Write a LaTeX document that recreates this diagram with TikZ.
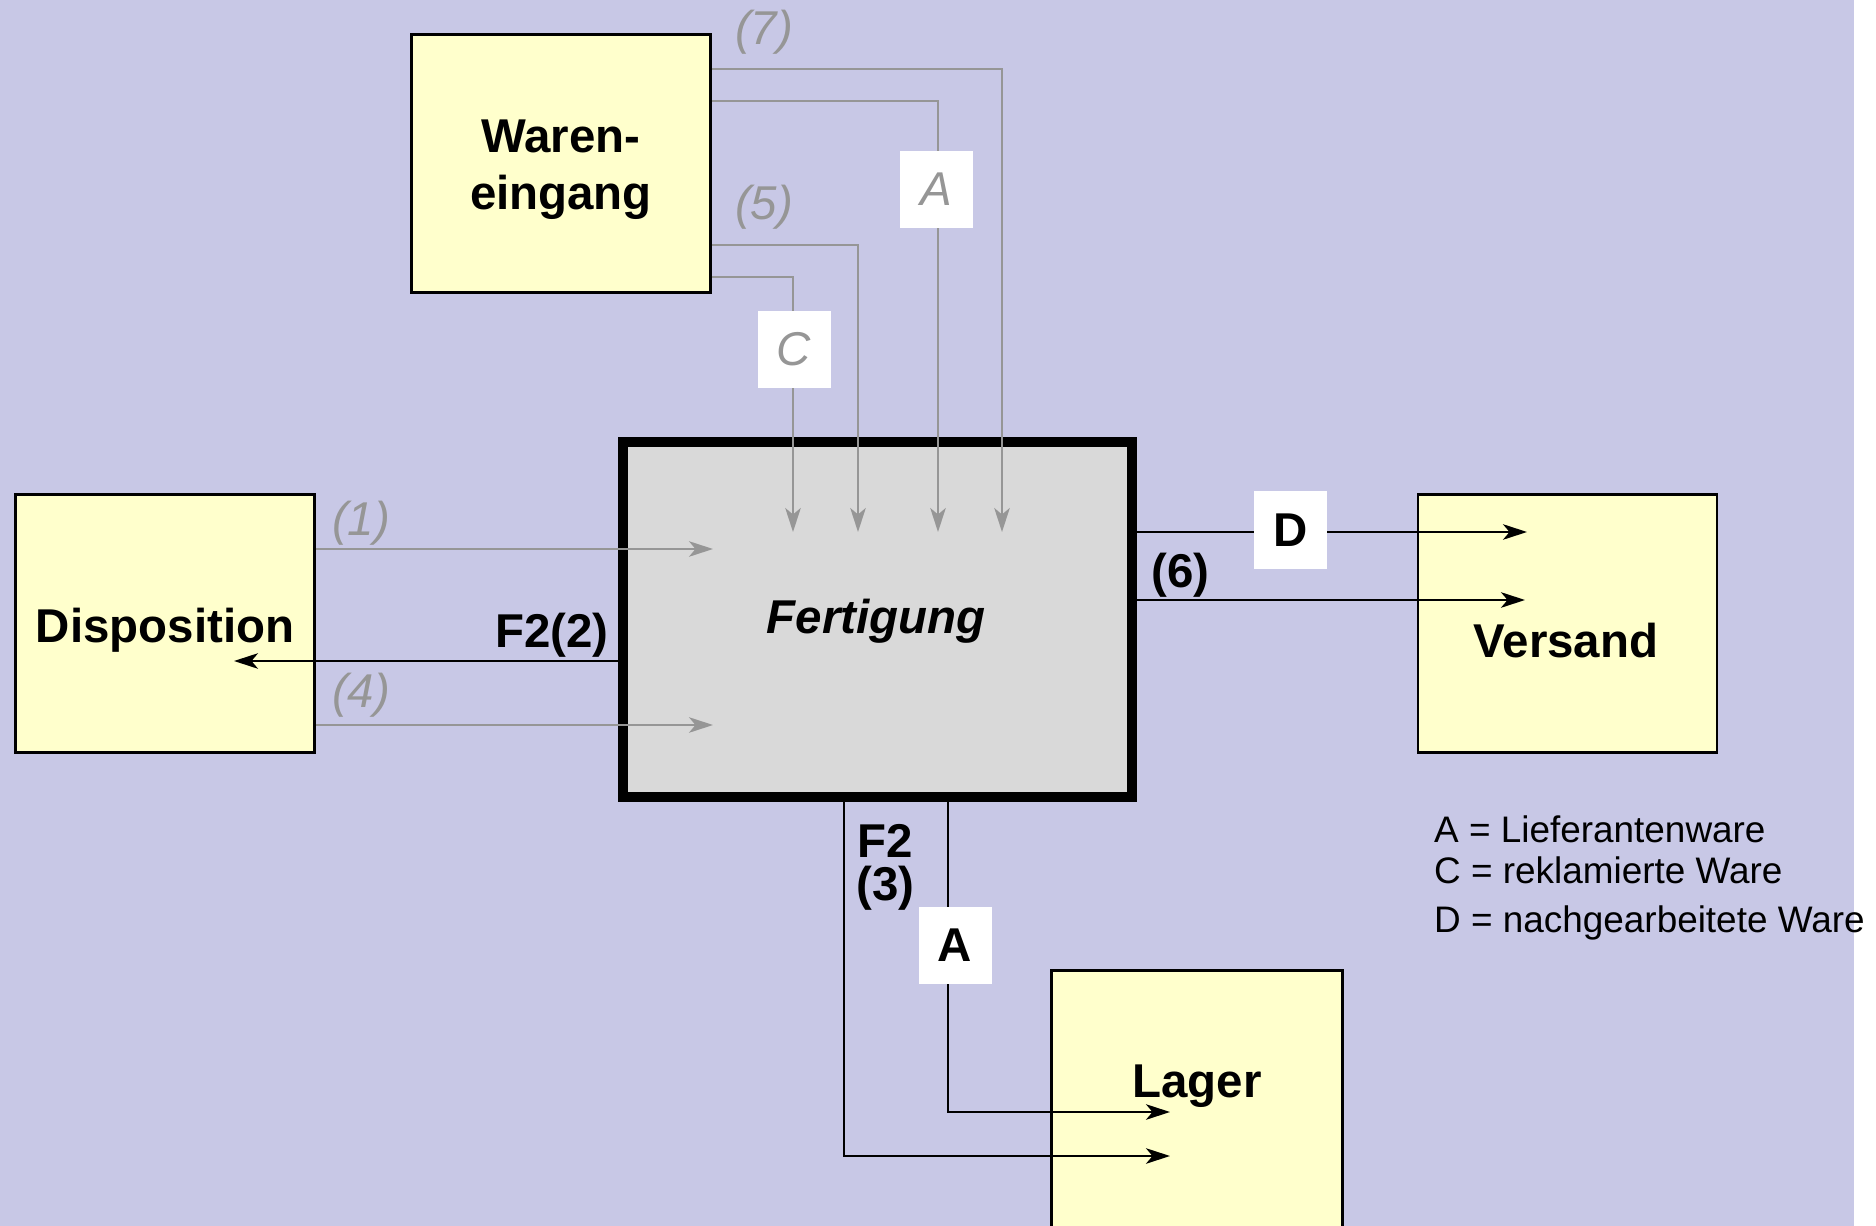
\documentclass[tikz,border=0pt]{standalone}
\usepackage{fontspec}
\setmainfont{Liberation Sans}
\usetikzlibrary{arrows.meta}

\definecolor{backblue}{RGB}{200,200,230}
\definecolor{boxyellow}{RGB}{255,255,204}
\definecolor{workgrey}{RGB}{217,217,217}
\definecolor{flowgrey}{RGB}{150,150,150}

\tikzset{
  dept/.style={draw,line width=0.55mm,fill=boxyellow,inner sep=0pt,
               minimum width=59.8mm,minimum height=51.6mm},
  depttext/.style={font=\fontsize{27}{32.5}\selectfont\bfseries,anchor=base},
  flow/.style={line width=0.45mm,-{Stealth[length=4.8mm,width=3.1mm,inset=1.3mm]}},
  auxflow/.style={flow,draw=flowgrey},
  tag/.style={fill=white,inner sep=0pt,minimum width=14.6mm,minimum height=15.4mm},
  auxnum/.style={font=\fontsize{27}{32}\selectfont\itshape,text=flowgrey},
  mainnum/.style={font=\fontsize{27}{32}\selectfont\bfseries},
  keytext/.style={font=\fontsize{21}{25}\selectfont,anchor=base west}
}

\begin{document}
\begin{tikzpicture}[x=0.2mm,y=-0.2mm]
    \useasboundingbox (0,0) rectangle (1876,1226);
    \fill[white] (0,0) rectangle (1876,1226);
    \fill[backblue] (0,0) rectangle (1854,1226);

    % departments
    \node[dept] (waren) at (561,163.5) {};
    \node[dept] (dispo) at (165,623.5) {};
    \node[dept] (versand) at (1567.5,623.5) {};
    \node[dept,minimum width=58.2mm] (lager) at (1197,1099.5) {};
    \node[draw,line width=2mm,fill=workgrey,inner sep=0pt,minimum width=101.8mm,
          minimum height=71mm] (fert) at (877.5,619.5) {};

    \node[depttext,align=center,anchor=center] at (561,170) {Waren-\\eingang};
    \node[depttext] at (165,642) {Disposition};
    \node[depttext] at (1566,657) {Versand};
    \node[depttext] at (1197,1097) {Lager};
    \node[depttext,font=\fontsize{27}{32}\selectfont\bfseries\itshape] at (876,633) {Fertigung};

    % arrow ends
    \coordinate (in1) at (713,549);
    \coordinate (in4) at (713,725);
    \coordinate (back2) at (234,661);
    \coordinate (outD) at (1527,532);
    \coordinate (out6) at (1525,600);
    \coordinate (outA) at (1170,1112);
    \coordinate (out3) at (1170,1156);
    \foreach \n/\x in {7/1002,A/938,5/858,C/793}
        \coordinate (in\n) at (\x,532);

    % flows into Fertigung
    \foreach \n/\y in {7/69,A/101,5/245,C/277}
        \draw[auxflow] (waren.east |- 0,\y) -| (in\n);
    \draw[auxflow] (dispo.east |- in1) -- (in1);
    \draw[auxflow] (dispo.east |- in4) -- (in4);

    % flows out of Fertigung
    \draw[flow] (fert.west |- back2) -- (back2);
    \draw[flow] (fert.east |- outD) -- (outD);
    \draw[flow] (fert.east |- out6) -- (out6);
    \draw[flow] (fert.south -| 948,0) |- (outA);
    \draw[flow] (fert.south -| 844,0) |- (out3);

    % goods tags on the lines
    \node[tag,auxnum] at (936.5,189.5) {A};
    \node[tag,auxnum] at (794,349.5) {C};
    \node[tag,mainnum] at (1290.5,530) {D};
    \node[tag,mainnum] at (955,945.5) {A};

    % flow numbers
    \node[auxnum,anchor=base] at (764,45) {(7)};
    \node[auxnum,anchor=base] at (764,220) {(5)};
    \node[auxnum,anchor=base] at (361,535) {(1)};
    \node[auxnum,anchor=base] at (361,707) {(4)};
    \node[mainnum,anchor=base east,inner sep=0pt] at (609,647) {F2(2)};
    \node[mainnum,anchor=base west,inner sep=0pt] at (1151,587) {(6)};
    \node[mainnum,anchor=base west,inner sep=0pt] at (857,857) {F2};
    \node[mainnum,anchor=base west,inner sep=0pt] at (856,900) {(3)};

    % key
    \node[keytext] at (1428,842) {A = Lieferantenware};
    \node[keytext] at (1428,883) {C = reklamierte Ware};
    \node[keytext] at (1428,932) {D = nachgearbeitete Ware};
\end{tikzpicture}
\end{document}
